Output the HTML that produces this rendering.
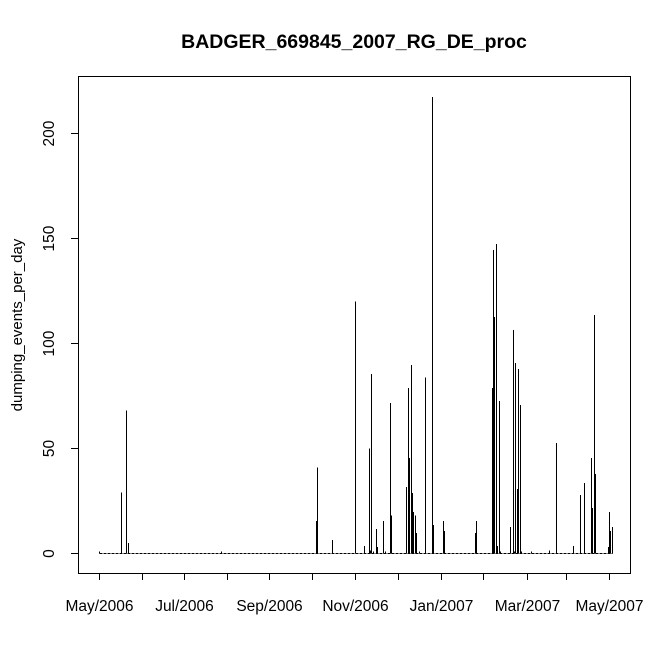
<!DOCTYPE html>
<html><head><meta charset="utf-8"><style>body{margin:0;background:#fff}svg{display:block}text{font-family:"Liberation Sans",Arial,sans-serif}</style></head>
<body>
<svg id="c" width="672" height="671" xmlns="http://www.w3.org/2000/svg" shape-rendering="crispEdges">
<rect x="0" y="0" width="672" height="671" fill="#fff"/>
<text x="354" y="48" text-anchor="middle" font-size="19.5" font-weight="bold">BADGER_669845_2007_RG_DE_proc</text>
<rect x="78.5" y="76.5" width="552" height="497" fill="none" stroke="#000" stroke-width="1"/>
<text transform="translate(22,325) rotate(-90)" text-anchor="middle" font-size="15">dumping_events_per_day</text>
<g id="axes"></g>
<g id="marks"></g>
</svg>
<script>
const days=[0,16,19,21,87,155,156,167,183,190,193,194,195,196,198,199,203,205,208,209,220,221,222,223,224,225,226,227,229,233,238,239,246,247,269,270,281,282,283,284,285,286,287,294,296,297,298,299,300,301,302,309,322,327,339,344,347,352,353,354,355,364,365,366,367];
const values=[1,29,68,5,1,15.5,41,6.5,120,3.5,50,1.5,85.5,1,11.7,3,15.5,1,71.7,18,31.7,78.8,45.5,89.8,28.8,19.8,18,9.7,1,83.8,217.5,13.6,15.5,10.7,9.7,15.5,78.8,144.5,112.6,147.4,3.5,72.6,1,12.6,106.4,1,90.7,30.7,87.9,70.7,1,1,1.5,52.6,3.5,27.9,33.6,45.5,21.7,113.6,37.9,3,19.8,10.7,12.6];
const yTicks=[0,50,100,150,200];
const xTickLabels=["May/2006","Jul/2006","Sep/2006","Nov/2006","Jan/2007","Mar/2007","May/2007"];
const xTickDays=[0,30.5,61,91.5,122,152.5,183,214,245,275,306,334,365];
const NS="http://www.w3.org/2000/svg";
function xs(d){return Math.round(99+d*510/365)+0.5;}
function ys(v){return 553.5-v*2.1;}
const ax=document.getElementById('axes'),mk=document.getElementById('marks');
function mkEl(t,a,p){const e=document.createElementNS(NS,t);for(const k in a)e.setAttribute(k,a[k]);p.appendChild(e);return e;}
const bl=mkEl('line',{x1:xs(0),x2:xs(367),y1:ys(0),y2:ys(0),stroke:'#000','stroke-width':1,'stroke-dasharray':'3,1'},mk);


days.forEach((d,i)=>{const l=mkEl('line',{x1:xs(d),x2:xs(d),y1:ys(0),y2:ys(values[i]),stroke:'#000','stroke-width':1},mk);

});
const ya=mkEl('line',{x1:78.5,x2:78.5,y1:ys(0),y2:ys(200),stroke:'#000'},ax);


yTicks.forEach(v=>{const t=mkEl('line',{x1:71,x2:78.5,y1:ys(v),y2:ys(v),stroke:'#000'},ax);


const tx=mkEl('text',{transform:`translate(54,${ys(v)}) rotate(-90)`,'text-anchor':'middle','font-size':15.5},ax);tx.textContent=v;

});
xTickDays.forEach((d,i)=>{const t=mkEl('line',{x1:xs(d),x2:xs(d),y1:573.5,y2:580,stroke:'#000'},ax);


if(i%2===0){const tx=mkEl('text',{x:xs(d),y:611,'text-anchor':'middle','font-size':15.5},ax);tx.textContent=xTickLabels[i/2];

}});
</script>
</body></html>
